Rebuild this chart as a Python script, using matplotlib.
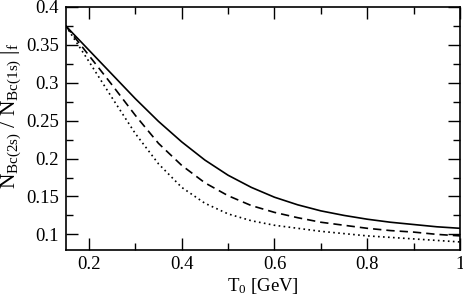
import matplotlib
matplotlib.use("Agg")
import matplotlib.pyplot as plt
from matplotlib.ticker import MultipleLocator

plt.rcParams['font.family'] = ['Liberation Serif', 'DejaVu Serif']
plt.rcParams['mathtext.fontset'] = 'custom'
plt.rcParams['mathtext.rm'] = 'Liberation Serif'
plt.rcParams['mathtext.it'] = 'Liberation Serif:italic'

# 初始温度 T0 [GeV]
t0 = [0.15, 0.2, 0.25, 0.3, 0.35, 0.4, 0.45, 0.5, 0.55, 0.6,
      0.65, 0.7, 0.75, 0.8, 0.85, 0.9, 0.95, 1.0]
# 三条曲线的比值
solid = [0.375, 0.343, 0.311, 0.279, 0.249, 0.222, 0.198, 0.178, 0.162, 0.149,
         0.139, 0.131, 0.125, 0.120, 0.116, 0.113, 0.110, 0.108]
dashed = [0.375, 0.336, 0.297, 0.257, 0.220, 0.191, 0.168, 0.151, 0.138, 0.129,
          0.122, 0.116, 0.112, 0.108, 0.105, 0.103, 0.100, 0.098]
dotted = [0.375, 0.328, 0.280, 0.233, 0.193, 0.162, 0.141, 0.127, 0.118, 0.112,
          0.108, 0.104, 0.101, 0.098, 0.096, 0.094, 0.092, 0.090]

fig = plt.figure(figsize=(4.63, 3.01), dpi=100)
ax = fig.add_axes([0.142, 0.171, 0.8515, 0.806])

ax.plot(t0, solid, color='black', lw=1.2, ls='-')
ax.plot(t0, dashed, color='black', lw=1.2, ls=(0, (5, 3)))
ax.plot(t0, dotted, color='black', lw=1.2, ls=(0, (1, 2)))

ax.set_xlim(0.15, 1.0)
ax.set_ylim(0.08, 0.4)
ax.xaxis.set_minor_locator(MultipleLocator(0.1))
ax.yaxis.set_minor_locator(MultipleLocator(0.025))
ax.set_xticks([0.2, 0.4, 0.6, 0.8, 1.0])
ax.set_xticklabels(['0.2', '0.4', '0.6', '0.8', '1'])
ax.set_yticks([0.1, 0.15, 0.2, 0.25, 0.3, 0.35, 0.4])
ax.set_yticklabels(['0.1', '0.15', '0.2', '0.25', '0.3', '0.35', '0.4'])

ax.tick_params(which='both', direction='in', top=True, right=True, labelsize=13.5, width=1.0)
ax.tick_params(which='major', length=8.5, pad=5)
ax.tick_params(which='minor', length=5)
for s in ax.spines.values():
    s.set_linewidth(1.2)

ax.set_xlabel(r'T$_0$ [GeV]', fontsize=13.5, labelpad=2)
ax.set_ylabel(r'N$_{\mathrm{Bc(2s)}}$ / N$_{\mathrm{Bc(1s)}}$ |$_{\mathrm{f}}$', fontsize=15.5)
ax.yaxis.set_label_coords(-0.108, 0.55)

fig.savefig('out.png', dpi=100)
